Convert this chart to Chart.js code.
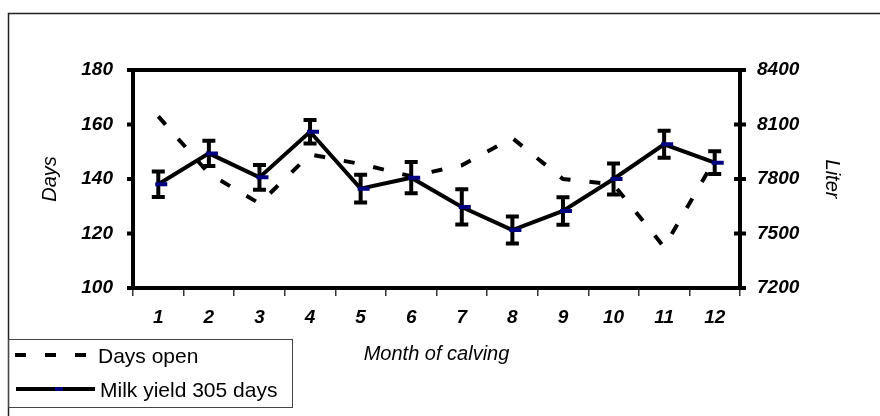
<!DOCTYPE html>
<html><head><meta charset="utf-8">
<script src="https://cdn.jsdelivr.net/npm/chart.js@4.4.1/dist/chart.umd.min.js"></script>
<style>html,body{margin:0;padding:0;background:#fff;}canvas{display:block;}</style>
</head><body>
<canvas id="c" width="880" height="416"></canvas>
<script>
const months = ['1','2','3','4','5','6','7','8','9','10','11','12'];
const daysOpen = [163, 142, 131, 149, 145.5, 141, 145, 155, 140, 138, 115, 147];
const milkYield = [7771, 7941, 7809, 8060, 7747, 7807, 7646, 7519, 7624, 7800, 7991, 7890];
const milkError = [70, 70, 68, 65, 76, 86, 97, 74, 76, 86, 74, 63];
const daysTicks = [100, 120, 140, 160, 180];
const literTicks = [7200, 7500, 7800, 8100, 8400];
const seriesNames = ['Days open', 'Milk yield 305 days'];
const axisTitles = {x: 'Month of calving', y: 'Days', y1: 'Liter'};

const FONT = '"Liberation Sans", Arial, sans-serif';
Chart.defaults.font.family = FONT;
Chart.defaults.color = '#000';

const decor = {
  id: 'decor',
  beforeDraw(chart) {
    const ctx = chart.ctx;
    ctx.save();
    ctx.fillStyle = '#fff';
    ctx.fillRect(0, 0, chart.width, chart.height);
    ctx.strokeStyle = '#222';
    ctx.lineWidth = 1.5;
    ctx.beginPath();
    ctx.moveTo(8.5, chart.height);
    ctx.lineTo(8.5, 13.5);
    ctx.lineTo(chart.width, 13.5);
    ctx.stroke();
    ctx.restore();
  },
  beforeDatasetsDraw(chart) {
    const ctx = chart.ctx;
    const y1 = chart.scales.y1;
    const meta = chart.getDatasetMeta(1);
    ctx.save();
    ctx.strokeStyle = '#000';
    ctx.lineWidth = 4;
    meta.data.forEach((pt, i) => {
      const x = pt.x;
      const top = y1.getPixelForValue(milkYield[i] + milkError[i]);
      const bot = y1.getPixelForValue(milkYield[i] - milkError[i]);
      ctx.beginPath();
      ctx.moveTo(x, top); ctx.lineTo(x, bot);
      ctx.moveTo(x - 6.5, top); ctx.lineTo(x + 6.5, top);
      ctx.moveTo(x - 6.5, bot); ctx.lineTo(x + 6.5, bot);
      ctx.stroke();
    });
    ctx.restore();
  },
  afterDatasetsDraw(chart) {
    const ctx = chart.ctx;
    const a = chart.chartArea;
    ctx.save();
    // milk yield markers (dash, dark blue)
    const meta = chart.getDatasetMeta(1);
    ctx.strokeStyle = '#000080';
    ctx.lineWidth = 4;
    ctx.beginPath();
    meta.data.forEach(pt => {
      ctx.moveTo(pt.x - 3, pt.y); ctx.lineTo(pt.x + 9, pt.y);
    });
    ctx.stroke();
    // frame
    ctx.strokeStyle = '#000';
    ctx.lineWidth = 4;
    ctx.strokeRect(a.left, a.top, a.right - a.left, a.bottom - a.top);
    const ys = chart.scales.y, yr = chart.scales.y1;
    ctx.beginPath();
    daysTicks.forEach(v => {
      const p = ys.getPixelForValue(v);
      ctx.moveTo(a.left - 6, p); ctx.lineTo(a.left, p);
    });
    literTicks.forEach(v => {
      const p = yr.getPixelForValue(v);
      ctx.moveTo(a.right - 6, p); ctx.lineTo(a.right + 6, p);
    });
    ctx.stroke();
    ctx.restore();
  },
  afterDraw(chart) {
    const ctx = chart.ctx;
    ctx.save();
    ctx.strokeStyle = '#444';
    ctx.lineWidth = 1;
    ctx.strokeRect(8.5, 339.5, 284, 68);
    ctx.strokeStyle = '#000';
    ctx.lineWidth = 4;
    ctx.setLineDash([11, 19]);
    ctx.beginPath(); ctx.moveTo(15, 355); ctx.lineTo(88, 355); ctx.stroke();
    ctx.setLineDash([]);
    ctx.beginPath(); ctx.moveTo(16, 389); ctx.lineTo(95, 389); ctx.stroke();
    ctx.strokeStyle = '#000080';
    ctx.beginPath(); ctx.moveTo(55, 389); ctx.lineTo(63, 389); ctx.stroke();
    ctx.fillStyle = '#000';
    ctx.font = '21px ' + FONT;
    ctx.textBaseline = 'middle';
    ctx.textAlign = 'left';
    ctx.fillText(chart.data.datasets[0].label, 98, 357);
    ctx.fillText(chart.data.datasets[1].label, 100, 391);
    ctx.restore();
  }
};

const tickFont = {size: 19, weight: 'bold', style: 'italic'};
const titleFont = {size: 20, style: 'italic'};
const plainNumber = v => String(v);

new Chart(document.getElementById('c'), {
  type: 'line',
  data: {
    labels: months,
    datasets: [
      {
        label: seriesNames[0],
        data: daysOpen,
        yAxisID: 'y',
        borderColor: '#000',
        borderWidth: 4,
        borderDash: [11, 19],
        borderCapStyle: 'butt',
        pointRadius: 0,
        fill: false,
        tension: 0,
        order: 2
      },
      {
        label: seriesNames[1],
        data: milkYield,
        yAxisID: 'y1',
        borderColor: '#000',
        borderWidth: 4,
        pointRadius: 0,
        fill: false,
        tension: 0,
        order: 1
      }
    ]
  },
  options: {
    responsive: false,
    animation: false,
    events: [],
    layout: {padding: {left: 0, right: 0, top: 70, bottom: 0}},
    plugins: {legend: {display: false}, tooltip: {enabled: false}},
    scales: {
      x: {
        type: 'category',
        offset: true,
        grid: {display: true, drawOnChartArea: false, drawTicks: true, tickLength: 8, color: '#333', lineWidth: 1.5, offset: true},
        border: {display: false},
        ticks: {font: tickFont, padding: 10, maxRotation: 0, autoSkip: false},
        title: {display: true, text: axisTitles.x, font: titleFont, padding: {top: 0, bottom: 50}},
        afterFit(s) { s.height = 128; }
      },
      y: {
        position: 'left',
        min: daysTicks[0], max: daysTicks[daysTicks.length - 1],
        ticks: {stepSize: daysTicks[1] - daysTicks[0], font: tickFont, padding: 20, callback: plainNumber},
        grid: {display: false, drawTicks: false},
        border: {display: false},
        title: {display: true, text: axisTitles.y, font: titleFont, padding: {top: 38, bottom: 0}},
        afterFit(s) { s.width = 133; }
      },
      y1: {
        position: 'right',
        min: literTicks[0], max: literTicks[literTicks.length - 1],
        ticks: {stepSize: literTicks[1] - literTicks[0], font: tickFont, padding: 17, callback: plainNumber},
        grid: {display: false, drawTicks: false},
        border: {display: false},
        title: {display: true, text: axisTitles.y1, font: titleFont, padding: {top: 36, bottom: 0}},
        afterFit(s) { s.width = 140; }
      }
    }
  },
  plugins: [decor]
});
</script>
</body></html>
